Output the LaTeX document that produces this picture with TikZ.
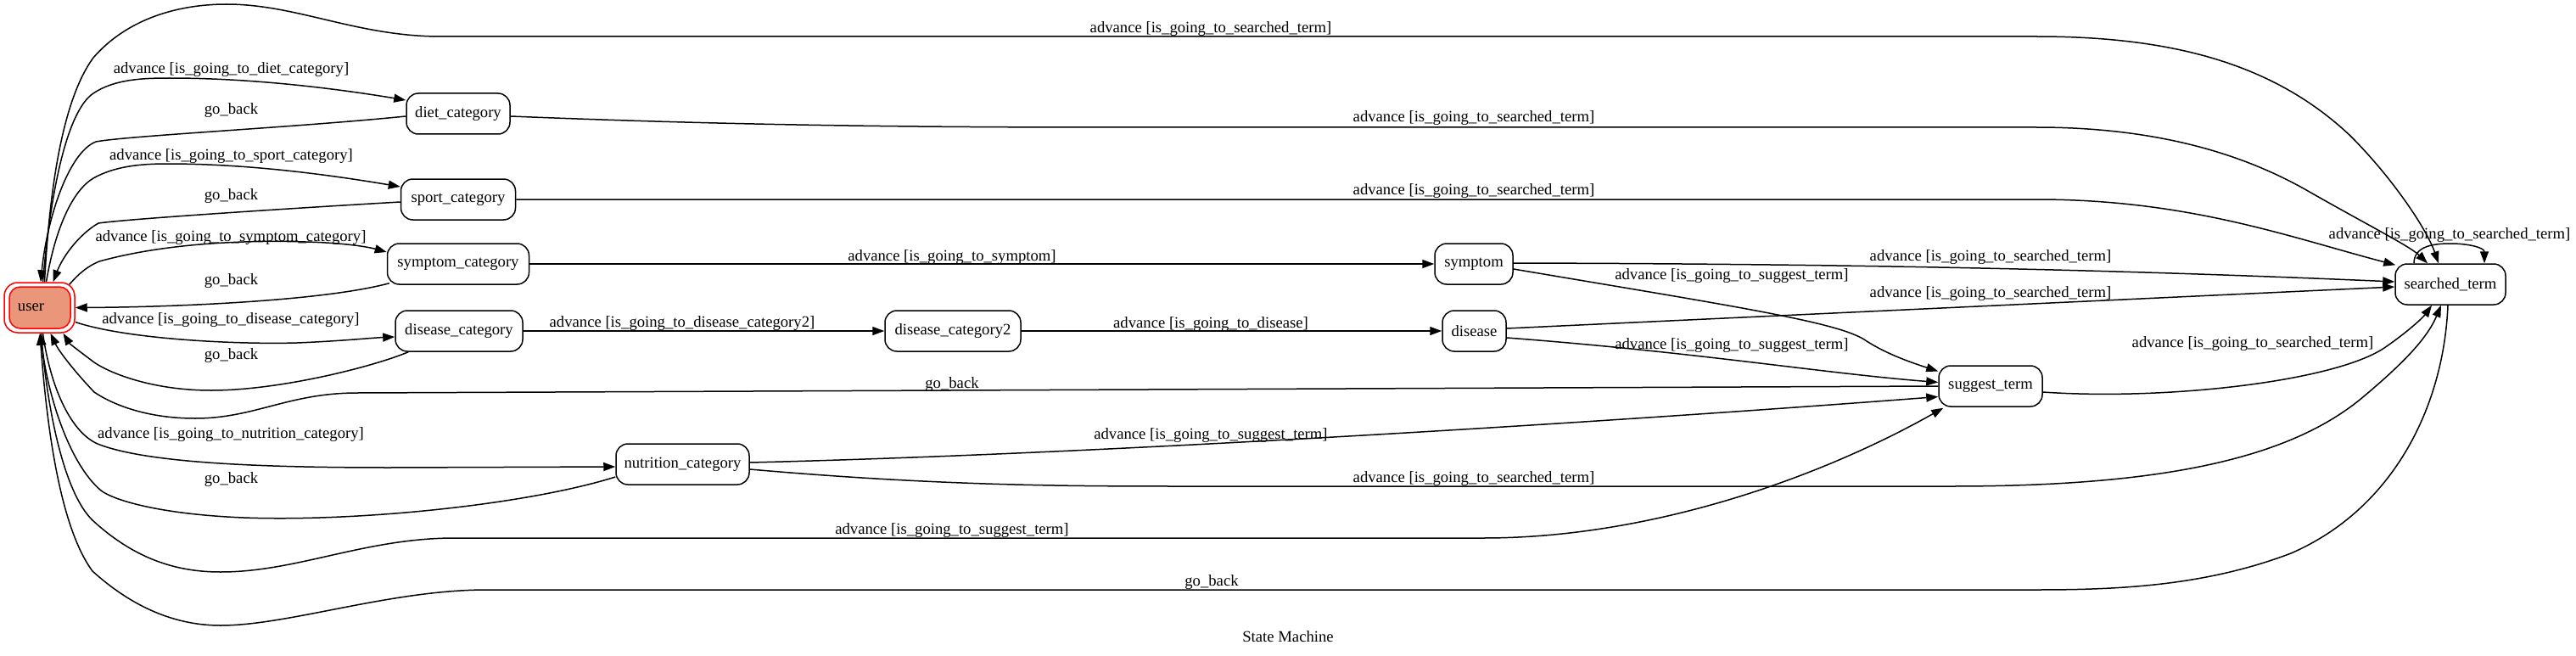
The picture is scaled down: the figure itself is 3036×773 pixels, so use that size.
\documentclass[tikz,border=0pt]{standalone}
\usepackage{fontspec}
\setmainfont{Liberation Serif}
\usetikzlibrary{arrows.meta}
\pgfdeclarelayer{bg}
\pgfsetlayers{bg,main}
\definecolor{salmonfill}{RGB}{233,150,122}
\tikzset{
  basefont/.style={font=\fontsize{18.67pt}{22pt}\selectfont},
  state/.style={basefont, draw, line width=1.5pt, rounded corners=14pt, minimum height=48pt, inner sep=0pt, fill=white},
  lbl/.style={basefont, inner sep=0pt, anchor=base},
  edge/.style={line width=1.5pt, -{Triangle[length=14pt,width=10pt]}},
}
\begin{document}
\begin{tikzpicture}[x=1pt,y=-1pt]
\useasboundingbox (0,0) rectangle (3036,773);
% nodes
\node[state, draw=red, minimum width=83pt, minimum height=59pt, rounded corners=16pt] (userouter) at (46.5,362.5) {};
\node[state, draw=red, fill=salmonfill, minimum width=72pt, minimum height=49pt, rounded corners=13pt] (user) at (47,362.5) {user\hspace*{21pt}};
\node[state, minimum width=122pt] (diet) at (540,134) {diet\_category};
\node[state, minimum width=135pt] (sport) at (540,235) {sport\_category};
\node[state, minimum width=167pt] (symcat) at (540,311) {symptom\_category};
\node[state, minimum width=150pt] (discat) at (541,390) {disease\_category};
\node[state, minimum width=160pt] (discat2) at (1123,390) {disease\_category2};
\node[state, minimum width=92pt] (symptom) at (1737,311) {symptom};
\node[state, minimum width=75pt] (disease) at (1737.5,390) {disease};
\node[state, minimum width=157pt] (nutri) at (804.5,547) {nutrition\_category};
\node[state, minimum width=122pt] (suggest) at (2346,455) {suggest\_term};
\node[state, minimum width=130pt] (searched) at (2888,335) {searched\_term};

\begin{pgfonlayer}{bg}
% user -> searched (top)
\draw[edge] ([xshift=6pt]userouter.north) .. controls (58,230) and (72,120) .. (110,68)
  .. controls (150,22) and (210,5) .. (267,5) .. controls (350,5) and (420,43) .. (520,43)
  -- (2400,43) .. controls (2560,43) and (2680,75) .. (2770,160)
  .. controls (2820,210) and (2860,270) .. ([xshift=-14pt]searched.north);
% user -> diet
\draw[edge] ([xshift=4pt]userouter.north) .. controls (60,220) and (80,130) .. (110,110)
  .. controls (135,93) and (170,92) .. (200,92) .. controls (300,92) and (400,105) .. ([yshift=16pt]diet.west);
% diet -> user
\draw[edge] ([yshift=-3pt]diet.west) .. controls (350,150) and (150,160) .. (113,167)
  .. controls (80,180) and (55,260) .. ([xshift=1.5pt]userouter.north);
% user -> sport
\draw[edge] ([xshift=8pt]userouter.north) .. controls (65,270) and (85,225) .. (110,210)
  .. controls (135,196) and (165,193) .. (197,193) .. controls (300,193) and (400,208) .. ([yshift=15pt]sport.west);
% sport -> user
\draw[edge] ([yshift=-3pt]sport.west) .. controls (350,245) and (150,258) .. (116,263)
  .. controls (95,275) and (75,300) .. ([xshift=16pt]userouter.north);
% user -> symptom_category
\draw[edge] ([shift={(-7pt,-3pt)}]userouter.north east) .. controls (95,320) and (105,313) .. (117,308)
  .. controls (200,285) and (300,283) .. (360,285) .. controls (400,286) and (430,290) .. ([yshift=14pt]symcat.west);
% symptom_category -> user
\draw[edge] ([shift={(3pt,2pt)}]symcat.south west) .. controls (380,355) and (200,362) .. (userouter.east);
% user -> disease_category
\draw[edge] ([yshift=-17pt]userouter.east) .. controls (150,400) and (280,406) .. (350,404)
  .. controls (400,402) and (440,398) .. ([yshift=-7pt]discat.west);
% disease_category -> user
\draw[edge] ([xshift=16pt]discat.south west) .. controls (440,432) and (330,460) .. (249,460)
  .. controls (180,460) and (130,440) .. (111,427) .. controls (95,415) and (82,405) .. ([xshift=28pt]userouter.south);
% suggest -> user
\draw[edge] (suggest.west) -- (421,463) .. controls (340,463) and (300,493) .. (230,493)
  .. controls (170,493) and (130,475) .. (111,462) .. controls (90,440) and (70,415) .. ([xshift=13pt]userouter.south);
% user -> nutrition
\draw[edge] ([xshift=4pt]userouter.south) .. controls (60,460) and (85,510) .. (115,523)
  .. controls (170,545) and (300,551) .. (460,551) -- ([yshift=-3pt]nutri.west);
% nutrition -> user
\draw[edge] ([yshift=-15pt]nutri.west) .. controls (620,595) and (420,615) .. (287,610)
  .. controls (190,606) and (135,590) .. (119,578) .. controls (80,545) and (55,460) .. ([xshift=1.5pt]userouter.south);
% user -> suggest
\draw[edge] ([xshift=2pt]userouter.south) .. controls (55,480) and (75,580) .. (109,613)
  .. controls (160,660) and (210,674) .. (260,674) .. controls (350,674) and (430,634) .. (536,634)
  -- (1748,634) .. controls (1950,634) and (2150,560) .. ([xshift=6pt,yshift=-1pt]suggest.south west);
% searched -> user
\draw[edge] ([xshift=-3pt]searched.south) .. controls (2880,480) and (2820,600) .. (2700,652)
  .. controls (2600,690) and (2500,695) .. (2400,695) -- (574,695)
  .. controls (460,695) and (340,737) .. (260,737) .. controls (200,737) and (150,710) .. (109,673)
  .. controls (70,620) and (55,500) .. ([xshift=0.5pt]userouter.south);
% nutrition -> suggest
\draw[edge] ([yshift=2pt]nutri.east) .. controls (1300,535) and (1900,497) .. ([yshift=-12.5pt]suggest.west);
% nutrition -> searched
\draw[edge] ([yshift=-6pt]nutri.east) .. controls (1100,572) and (1250,573) .. (1392,573) -- (2300,573)
  .. controls (2550,573) and (2700,540) .. (2786,467) .. controls (2830,430) and (2860,400) .. ([xshift=-11pt]searched.south);
% symptom_category -> symptom
\draw[edge] (symcat.east) -- (symptom.west);
% disease_category -> disease_category2
\draw[edge] (discat.east) -- (discat2.west);
% disease_category2 -> disease
\draw[edge] (discat2.east) -- (disease.west);
% symptom -> searched
\draw[edge] ([yshift=1pt]symptom.east) .. controls (2200,311) and (2500,318) .. ([yshift=3pt]searched.west);
% disease -> searched
\draw[edge] ([yshift=3pt]disease.east) -- ([yshift=-3pt]searched.west);
% symptom -> suggest
\draw[edge] ([yshift=-6pt]symptom.east) .. controls (2050,362) and (2170,380) .. (2200,402)
  .. controls (2225,418) and (2255,428) .. ([yshift=17.5pt]suggest.west);
% disease -> suggest
\draw[edge] ([yshift=-8pt]disease.east) .. controls (2000,415) and (2150,440) .. ([yshift=4.5pt]suggest.west);
% searched self loop
\draw[edge] ([xshift=-43pt]searched.north) .. controls (2845,290) and (2868,287) .. (2888,287)
  .. controls (2910,287) and (2928,292) .. ([xshift=40pt]searched.north);
% suggest -> searched
\draw[edge] ([yshift=-7pt]suggest.east) .. controls (2550,472) and (2750,450) .. (2810,410)
  .. controls (2835,393) and (2855,375) .. ([xshift=-22pt]searched.south);
% diet -> searched
\draw[edge] ([yshift=-3pt]diet.east) .. controls (800,145) and (1000,150) .. (1300,150) -- (2400,150)
  .. controls (2550,150) and (2650,185) .. (2720,225) .. controls (2790,265) and (2840,290) .. ([xshift=-27pt]searched.north);
% sport -> searched
\draw[edge] (sport.east) -- (2400,235) .. controls (2580,235) and (2700,280) .. ([shift={(1pt,-2pt)}]searched.north west);
\end{pgfonlayer}

% labels
\node[lbl] (l1) at (1427,38.5) {advance [is\_going\_to\_searched\_term]};
\node[lbl] (l2) at (272.5,87) {advance [is\_going\_to\_diet\_category]};
\node[lbl] (l3) at (272.5,135) {go\_back};
\node[lbl] (l4) at (272.5,189) {advance [is\_going\_to\_sport\_category]};
\node[lbl] (l5) at (272.5,235) {go\_back};
\node[lbl] (l6) at (272,284) {advance [is\_going\_to\_symptom\_category]};
\node[lbl] (l7) at (272.5,335) {go\_back};
\node[lbl] (l8) at (272,381) {advance [is\_going\_to\_disease\_category]};
\node[lbl] (l9) at (272.5,423) {go\_back};
\node[lbl] (l10) at (272,516) {advance [is\_going\_to\_nutrition\_category]};
\node[lbl] (l11) at (272.5,569) {go\_back};
\node[lbl] (l12) at (1122,457) {go\_back};
\node[lbl] (l13) at (1122,629) {advance [is\_going\_to\_suggest\_term]};
\node[lbl] (l14) at (1428,690.5) {go\_back};
\node[lbl] (l15) at (1427,517.5) {advance [is\_going\_to\_suggest\_term]};
\node[lbl] (l16) at (1737,568) {advance [is\_going\_to\_searched\_term]};
\node[lbl] (l17) at (1122,307) {advance [is\_going\_to\_symptom]};
\node[lbl] (l18) at (804,385) {advance [is\_going\_to\_disease\_category2]};
\node[lbl] (l19) at (1427,386) {advance [is\_going\_to\_disease]};
\node[lbl] (l20) at (2346,307) {advance [is\_going\_to\_searched\_term]};
\node[lbl] (l21) at (2346,350) {advance [is\_going\_to\_searched\_term]};
\node[lbl] (l22) at (2041,329) {advance [is\_going\_to\_suggest\_term]};
\node[lbl] (l23) at (2041,411.5) {advance [is\_going\_to\_suggest\_term]};
\node[lbl] (l24) at (2887,281) {advance [is\_going\_to\_searched\_term]};
\node[lbl] (l25) at (2655,409) {advance [is\_going\_to\_searched\_term]};
\node[lbl] (l26) at (1737,144) {advance [is\_going\_to\_searched\_term]};
\node[lbl] (l27) at (1737,229) {advance [is\_going\_to\_searched\_term]};
\node[lbl] (title) at (1518,756) {State Machine};
\end{tikzpicture}
\end{document}
